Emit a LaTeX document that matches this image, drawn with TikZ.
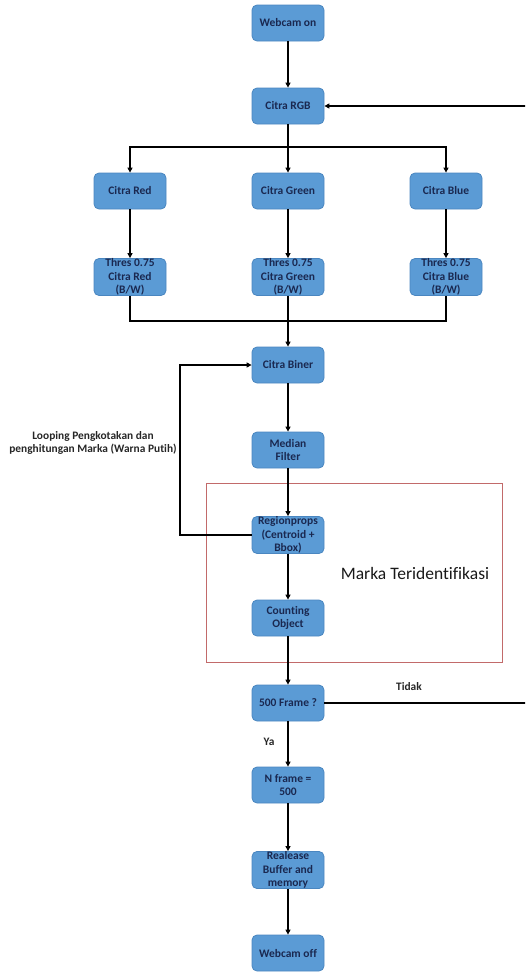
\documentclass[tikz,border=0pt]{standalone}
\usepackage{fontspec}
\setmainfont{Carlito}[Ligatures={NoCommon}]
\usetikzlibrary{arrows.meta}
\definecolor{boxfill}{HTML}{5B9BD5}
\definecolor{boxline}{HTML}{4A86C0}
\definecolor{boxtext}{HTML}{1A2850}
\definecolor{frameRed}{HTML}{C26A6A}
\begin{document}
\begin{tikzpicture}[x=1pt,y=-1pt,
  box/.style={draw=boxline, fill=boxfill, rounded corners=5pt, minimum width=72pt, minimum height=36pt,
    inner sep=0pt, align=center, font=\fontsize{11.5}{13.6}\selectfont\bfseries, text=boxtext, line width=0.8pt},
  conn/.style={line width=1.3pt, draw=black},
  arr/.style={conn, -{Triangle[length=5pt,width=5pt]}},
  lbl/.style={font=\fontsize{11.4}{13.5}\selectfont\bfseries, text=black!85, align=center}]
\clip (0,0) rectangle (525,972);
\useasboundingbox (0,0) rectangle (525,972);

\draw[frameRed, line width=0.7pt] (206,483) rectangle (502,662);

\node[box] (webon) at (288,23) {Webcam on};
\node[box] (rgb) at (288,106) {Citra RGB};
\node[box] (red) at (130,191) {Citra Red};
\node[box] (green) at (288,191) {Citra Green};
\node[box] (blue) at (446,191) {Citra Blue};
\node[box] (thrR) at (130,277) {Thres 0.75\\Citra Red\\(B/W)};
\node[box] (thrG) at (288,277) {Thres 0.75\\Citra Green\\(B/W)};
\node[box] (thrB) at (446,277) {Thres 0.75\\Citra Blue\\(B/W)};
\node[box] (biner) at (288,365) {Citra Biner};
\node[box] (median) at (288,450) {Median\\Filter};
\node[box] (region) at (288,535) {Regionprops\\(Centroid +\\Bbox)};
\node[box] (count) at (288,618) {Counting\\Object};
\node[box] (frame) at (288,703) {500 Frame ?};
\node[box] (nframe) at (288,785) {N frame =\\500};
\node[box] (release) at (288,870) {Realease\\Buffer and\\memory};
\node[box] (weboff) at (288,953) {Webcam off};

\node[font=\fontsize{17.5}{20}\selectfont, text=black!90] (marka) at (415,573) {Marka Teridentifikasi};
\node[lbl] (loopl) at (93,443) {Looping Pengkotakan dan\\penghitungan Marka (Warna Putih)};
\node[lbl] (tidak) at (409,687) {Tidak};
\node[lbl] (ya) at (269,742) {Ya};

\coordinate (split) at (288,147);
\coordinate (merge) at (288,321);
\coordinate (lp) at (180,535);
\coordinate (rt) at (530,703);

\draw[arr] (webon) -- (rgb);
\draw[arr] (rgb) -- (green);
\draw[arr] (split) -| (red.north);
\draw[arr] (split) -| (blue.north);
\draw[arr] (red) -- (thrR);
\draw[arr] (green) -- (thrG);
\draw[arr] (blue) -- (thrB);
\draw[conn] (thrR.south) |- (merge);
\draw[conn] (thrB.south) |- (merge);
\draw[arr] (thrG) -- (biner);
\draw[arr] (biner) -- (median);
\draw[arr] (median) -- (region);
\draw[arr] (region) -- (count);
\draw[arr] (count) -- (frame);
\draw[arr] (frame) -- (nframe);
\draw[arr] (nframe) -- (release);
\draw[arr] (release) -- (weboff);
\draw[arr] (region.west) -- (lp) |- (biner.west);
\draw[arr] (frame.east) -- (rt) |- (rgb.east);
\end{tikzpicture}
\end{document}
